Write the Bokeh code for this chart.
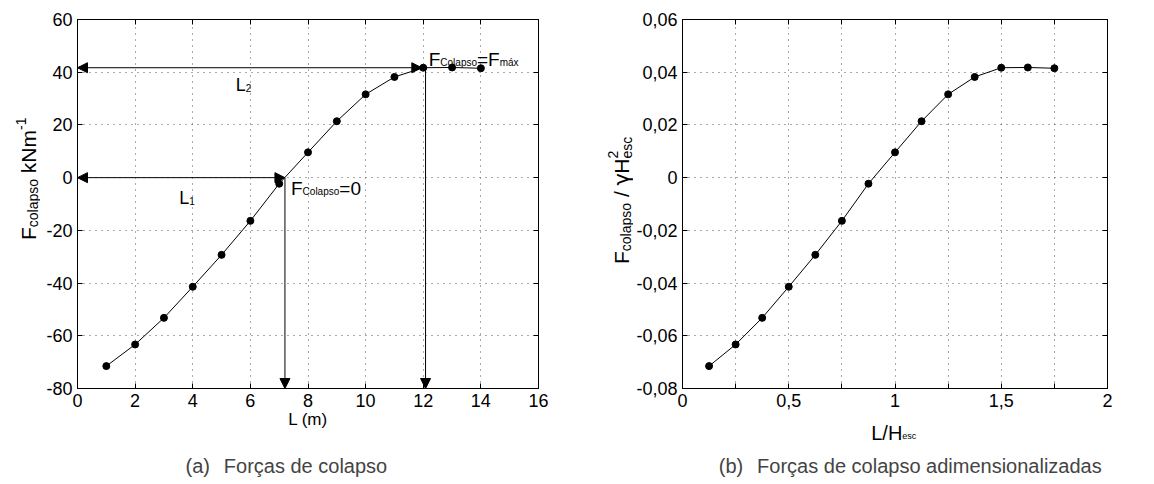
import math
from bokeh.plotting import figure
from bokeh.layouts import row, column
from bokeh.models import (Range1d, FixedTicker, LinearAxis, Label, Arrow, NormalHead,
                          CustomJSTickFormatter, CustomLabelingPolicy)
from bokeh.embed import file_html
from bokeh.resources import INLINE

# ---------------- data ----------------
L_m = [1, 2, 3, 4, 5, 6, 7, 8, 9, 10, 11, 12, 13, 14]
F_colapso = [-71.5, -63.3, -53.2, -41.4, -29.3, -16.4, -2.3, 9.6, 21.4, 31.6, 38.2, 41.7, 41.8, 41.5]
H_esc = 8.0
gamma_H2 = 1000.0
L_adim = [v / H_esc for v in L_m]
F_adim = [v / gamma_H2 for v in F_colapso]

L1_val = 7.2      # L where F_colapso = 0
L2_val = 12.0     # L where F_colapso = F_max
F_max = 41.7

xticks_a = [0, 2, 4, 6, 8, 10, 12, 14, 16]
yticks_a = [-80, -60, -40, -20, 0, 20, 40, 60]
xticks_b = [0, 0.25, 0.5, 0.75, 1, 1.25, 1.5, 1.75, 2]
yticks_b = [-0.08, -0.06, -0.04, -0.02, 0, 0.02, 0.04, 0.06]

FONT = "Liberation Sans"
W = {' ': 278, '(': 333, ')': 333, 'a': 556, 'b': 556, 'c': 500, 'd': 556, 'e': 556, 'F': 611,
     'o': 556, 'r': 333, 'ç': 500, 's': 500, 'l': 222, 'p': 556, 'k': 500, 'N': 722, 'm': 833,
     '-': 333, '1': 556, '0': 556, '2': 556, '=': 584, 'C': 722, 'á': 556, 'x': 500, 'L': 556,
     '/': 278, 'γ': 560, 'H': 722, 'i': 222, 'n': 556, 'z': 500}


def tw(s, size):
    return sum(W.get(c, 556) for c in s) * size / 1000.0


def rich(p, x, y, parts, angle=0.0, color="black"):
    adv = 0.0
    ca, sa = math.cos(angle), math.sin(angle)
    for part in parts:
        text, size, shift = part[0], part[1], part[2]
        advance = part[3] if len(part) > 3 else True
        font = part[4] if len(part) > 4 else FONT
        lead = len(text) - len(text.lstrip(" "))
        body = text.strip(" ")
        trail = len(text) - lead - len(body)
        a0 = adv + tw(" " * lead, size)
        dx = a0 * ca - shift * sa
        dy = a0 * sa + shift * ca
        if body:
            p.add_layout(Label(x=x, y=y, text=body,
                               text_font=font, text_font_size=f"{size}px", angle=angle,
                               x_offset=dx, y_offset=dy, text_align="left",
                               text_baseline="alphabetic", text_color=color))
        if advance:
            adv = a0 + tw(body, size) + tw(" " * trail, size)


def style(p, xt, yt, xfmt, yfmt):
    bx, ly = p.below[0], p.left[0]
    bx.ticker = FixedTicker(ticks=xt)
    ly.ticker = FixedTicker(ticks=yt)
    bx.formatter = CustomJSTickFormatter(code=xfmt)
    ly.formatter = CustomJSTickFormatter(code=yfmt)
    for ax in (bx, ly):
        ax.major_tick_in = 5
        ax.major_tick_out = 0
        ax.minor_tick_line_color = None
        ax.axis_line_color = "black"
        ax.major_tick_line_color = "black"
        ax.major_label_text_font = FONT
        ax.major_label_text_font_size = "18px"
        ax.major_label_text_color = "black"
        ax.major_label_standoff = 5
    for side, t in (("above", xt), ("right", yt)):
        p.add_layout(LinearAxis(ticker=FixedTicker(ticks=t), major_tick_in=5, major_tick_out=0,
                                minor_tick_line_color=None,
                                major_label_policy=CustomLabelingPolicy(code="return new Set()"),
                                major_label_standoff=0), side)
    p.xgrid.ticker = FixedTicker(ticks=xt)
    p.ygrid.ticker = FixedTicker(ticks=yt)
    for g in (p.xgrid[0], p.ygrid[0]):
        g.grid_line_color = "#555555"
        g.grid_line_dash = "1 5"
        g.grid_line_width = 1
    p.outline_line_color = "black"
    p.outline_line_width = 1
    p.background_fill_color = "white"
    p.border_fill_color = "white"


def blank(w, h):
    f = figure(width=w, height=h, output_backend="svg", toolbar_location=None,
               x_range=Range1d(0, w), y_range=Range1d(0, h),
               x_axis_type=None, y_axis_type=None, min_border=0)
    f.outline_line_color = None
    f.background_fill_color = "white"
    f.border_fill_color = "white"
    return f


TOTAL_H = 484
H_A = 440   # height of panel (a) incl. its x label
H_B = 415   # height of panel (b) without its x label

# ---------------- (a) ----------------
p1 = figure(width=520, height=H_A, output_backend="svg", toolbar_location=None,
            x_range=Range1d(0, 16), y_range=Range1d(-80, 60),
            min_border_left=37, min_border_right=15, min_border_top=19, min_border_bottom=52)
style(p1, xticks_a, yticks_a, "return tick.toString();", "return tick.toString();")
p1.below[0].axis_label = "L (m)"
p1.below[0].axis_label_text_font = FONT
p1.below[0].axis_label_text_font_size = "17px"
p1.below[0].axis_label_text_font_style = "normal"
p1.below[0].axis_label_text_color = "black"
p1.below[0].axis_label_standoff = 0
p1.line(L_m, F_colapso, line_color="black", line_width=1)
p1.scatter(L_m, F_colapso, size=7, fill_color="black", line_color="black")

head = dict(size=10, fill_color="black", line_color="black")
p1.add_layout(Arrow(x_start=L2_val - 0.05, y_start=F_max, x_end=0, y_end=F_max,
                    start=NormalHead(**head), end=NormalHead(**head), line_width=1))
p1.add_layout(Arrow(x_start=L1_val, y_start=0, x_end=0, y_end=0,
                    start=NormalHead(**head), end=NormalHead(**head), line_width=1))
p1.add_layout(Arrow(x_start=L1_val, y_start=0, x_end=L1_val, y_end=-80,
                    end=NormalHead(**head), line_width=1))
p1.add_layout(Arrow(x_start=L2_val + 0.08, y_start=F_max, x_end=L2_val + 0.08, y_end=-80,
                    end=NormalHead(**head), line_width=1))

rich(p1, 7.41, -4.1, [("F", 19, 0), ("Colapso", 10, -3), ("=0", 19, 0)])
rich(p1, 12.19, 45.0, [("F", 19, 0), ("Colapso", 10, -3), ("=F", 19, 0), ("máx", 10, -3)])
rich(p1, 5.49, 35.1, [("L", 18, 0), ("2", 10, -3)])
rich(p1, 3.53, -7.9, [("L", 18, 0), ("1", 10, -3)])

# ---------------- (b) ----------------
p2 = figure(width=505, height=H_B, output_backend="svg", toolbar_location=None,
            x_range=Range1d(0, 2), y_range=Range1d(-0.08, 0.06),
            min_border_left=48, min_border_right=22, min_border_top=19, min_border_bottom=27)
style(p2, xticks_b, yticks_b,
      """
const r = Math.round(tick * 4);
if (r % 2 != 0) return '';
return (r / 4).toString().replace('.', ',');
""",
      """
if (Math.abs(tick) < 1e-9) return '0';
return tick.toFixed(2).replace('.', ',');
""")
p2.line(L_adim, F_adim, line_color="black", line_width=1)
p2.scatter(L_adim, F_adim, size=7, fill_color="black", line_color="black")

# ---------------- label strips ----------------
ylab_a = blank(40, H_A)
rich(ylab_a, 28, H_A - 263, [("F", 21, 0), ("colapso", 14, -4), (" kNm", 21, 0), ("-1", 14, 8)],
     angle=math.pi / 2)
bottom_a = blank(560, TOTAL_H - H_A)
bottom_a.add_layout(Label(x=185, y=8, text="(a)", text_font=FONT, text_font_size="20px"))
bottom_a.add_layout(Label(x=223.3, y=8, text="Forças de colapso", text_font=FONT,
                          text_font_size="20px"))

ylab_b = blank(73, H_B)
rich(ylab_b, 61, H_B - 275, [("F", 21, 0), ("colapso", 14, -4), (" / ", 21, 0),
                             ("γ", 21, 0, True, "DejaVu Sans"), ("H", 21, 0),
                             ("2", 14, 9, False), ("esc", 14, -5)], angle=math.pi / 2)
bottom_b = blank(578, TOTAL_H - H_B)
rich(bottom_b, 310.7, 52, [("L/H", 20, 0), ("esc", 9, -3)])
bottom_b.add_layout(Label(x=158.3, y=8, text="(b)", text_font=FONT, text_font_size="20px"))
bottom_b.add_layout(Label(x=196.6, y=8, text="Forças de colapso adimensionalizadas",
                          text_font=FONT, text_font_size="20px"))

left = column(row(ylab_a, p1, spacing=0), bottom_a, spacing=0)
right = column(row(ylab_b, p2, spacing=0), bottom_b, spacing=0)
layout = row(left, right, spacing=0)
open("out.html", "w").write(file_html(layout, INLINE))
